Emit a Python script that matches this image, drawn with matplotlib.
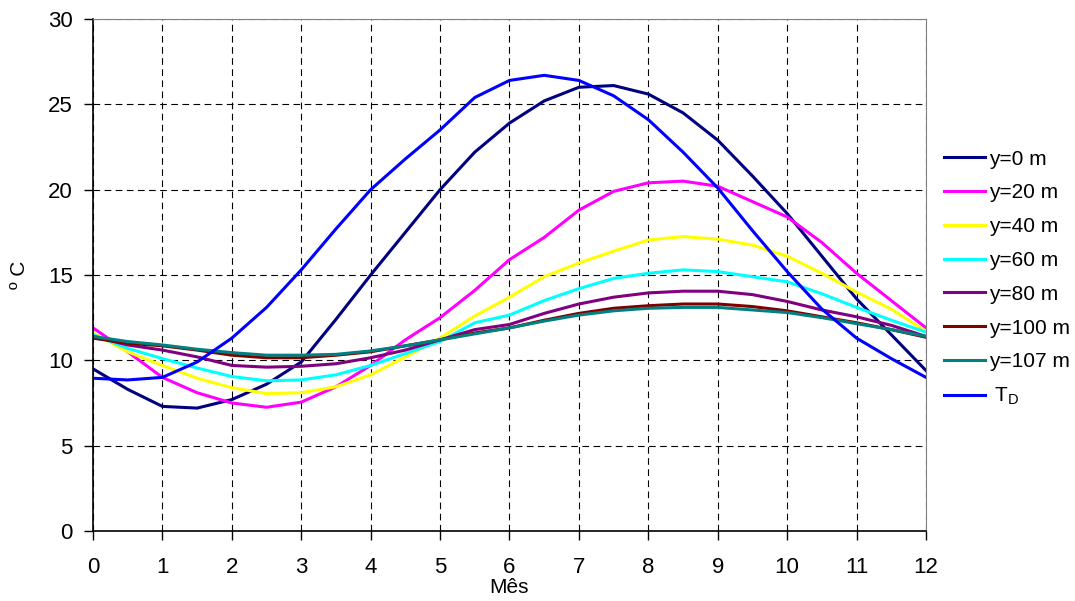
import matplotlib
matplotlib.use("Agg")
import matplotlib.pyplot as plt

plt.rcParams["font.family"] = ["Liberation Sans", "DejaVu Sans"]
plt.rcParams["mathtext.fontset"] = "custom"
plt.rcParams["mathtext.rm"] = "Liberation Sans"
plt.rcParams["mathtext.it"] = "Liberation Sans:italic"

# ── data (half-month steps) ───────────────────────────────────────────────────
mes = [0, 0.5, 1, 1.5, 2, 2.5, 3, 3.5, 4, 4.5, 5, 5.5, 6,
       6.5, 7, 7.5, 8, 8.5, 9, 9.5, 10, 10.5, 11, 11.5, 12]

y0   = [9.5, 8.3, 7.3, 7.2, 7.7, 8.6, 9.9, 12.4, 15.0, 17.5, 20.0, 22.2, 23.9,
        25.2, 26.0, 26.1, 25.6, 24.5, 22.9, 20.8, 18.6, 16.1, 13.6, 11.5, 9.4]
y20  = [11.9, 10.5, 9.0, 8.1, 7.5, 7.25, 7.55, 8.45, 9.7, 11.2, 12.5, 14.1, 15.9,
        17.2, 18.8, 19.9, 20.4, 20.5, 20.2, 19.3, 18.4, 16.9, 15.1, 13.5, 11.9]
y40  = [11.6, 10.5, 9.7, 8.95, 8.4, 8.05, 8.1, 8.45, 9.15, 10.2, 11.3, 12.6, 13.7,
        14.9, 15.7, 16.4, 17.05, 17.25, 17.1, 16.75, 16.1, 15.1, 14.0, 13.0, 11.7]
y60  = [11.5, 10.7, 10.1, 9.55, 9.05, 8.8, 8.85, 9.15, 9.7, 10.4, 11.1, 12.2, 12.65,
        13.5, 14.2, 14.8, 15.1, 15.3, 15.2, 14.9, 14.6, 13.9, 13.1, 12.35, 11.65]
y80  = [11.4, 10.9, 10.6, 10.2, 9.7, 9.6, 9.65, 9.8, 10.15, 10.6, 11.2, 11.8, 12.1,
        12.75, 13.3, 13.7, 13.95, 14.05, 14.05, 13.85, 13.45, 12.95, 12.55, 12.05, 11.4]
y100 = [11.3, 11.0, 10.85, 10.6, 10.3, 10.15, 10.15, 10.3, 10.5, 10.85, 11.2, 11.6, 11.9,
        12.35, 12.75, 13.05, 13.2, 13.3, 13.3, 13.15, 12.9, 12.55, 12.2, 11.8, 11.35]
y107 = [11.4, 11.1, 10.9, 10.65, 10.45, 10.3, 10.3, 10.35, 10.55, 10.85, 11.2, 11.55, 11.9,
        12.3, 12.65, 12.9, 13.05, 13.1, 13.1, 12.95, 12.8, 12.5, 12.15, 11.8, 11.4]
t_d  = [8.95, 8.85, 9.0, 9.9, 11.3, 13.1, 15.3, 17.7, 20.0, 21.8, 23.5, 25.4, 26.4,
        26.7, 26.4, 25.5, 24.1, 22.2, 20.1, 17.6, 15.2, 13.0, 11.3, 10.1, 9.0]

series = [y0, y20, y40, y60, y80, y100, y107, t_d]
labels = ["y=0 m", "y=20 m", "y=40 m", "y=60 m", "y=80 m", "y=100 m", "y=107 m",
          " T$_{\\mathrm{D}}$"]
colors = ["#000080", "#FF00FF", "#FFFF00", "#00FFFF", "#800080", "#800000",
          "#008080", "#0000FF"]

# ── plot ──────────────────────────────────────────────────────────────────────
fig = plt.figure(figsize=(10.75, 6.01), dpi=100)
ax = fig.add_axes([0.0865, 0.1165, 0.7749, 0.8519])

for vals, lab, col in zip(series, labels, colors):
    ax.plot(mes, vals, color=col, lw=2.2, label=lab)

ax.set_xlim(0, 12)
ax.set_ylim(0, 30)
ax.set_xticks(range(0, 13))
ax.set_yticks(range(0, 31, 5))
ax.tick_params(direction="out", length=6.5, width=1, labelsize=16)
ax.tick_params(axis="x", pad=12)
ax.tick_params(axis="y", pad=8)

ax.grid(True, color="black", linestyle=(0, (6, 4)), linewidth=0.8)
for s in ["top", "right"]:
    ax.spines[s].set_color("#808080")
for s in ["left", "bottom"]:
    ax.spines[s].set_linewidth(1.2)

ax.set_xlabel("Mês", fontsize=15, labelpad=0)
ax.set_ylabel("º C", fontsize=15, labelpad=14)

ax.legend(loc="upper left", bbox_to_anchor=(0.870, 0.765),
          bbox_transform=fig.transFigure, frameon=False, fontsize=15,
          handlelength=2.0, handletextpad=0.2, labelspacing=0.71,
          borderaxespad=0)

fig.savefig("out.png", dpi=100)
